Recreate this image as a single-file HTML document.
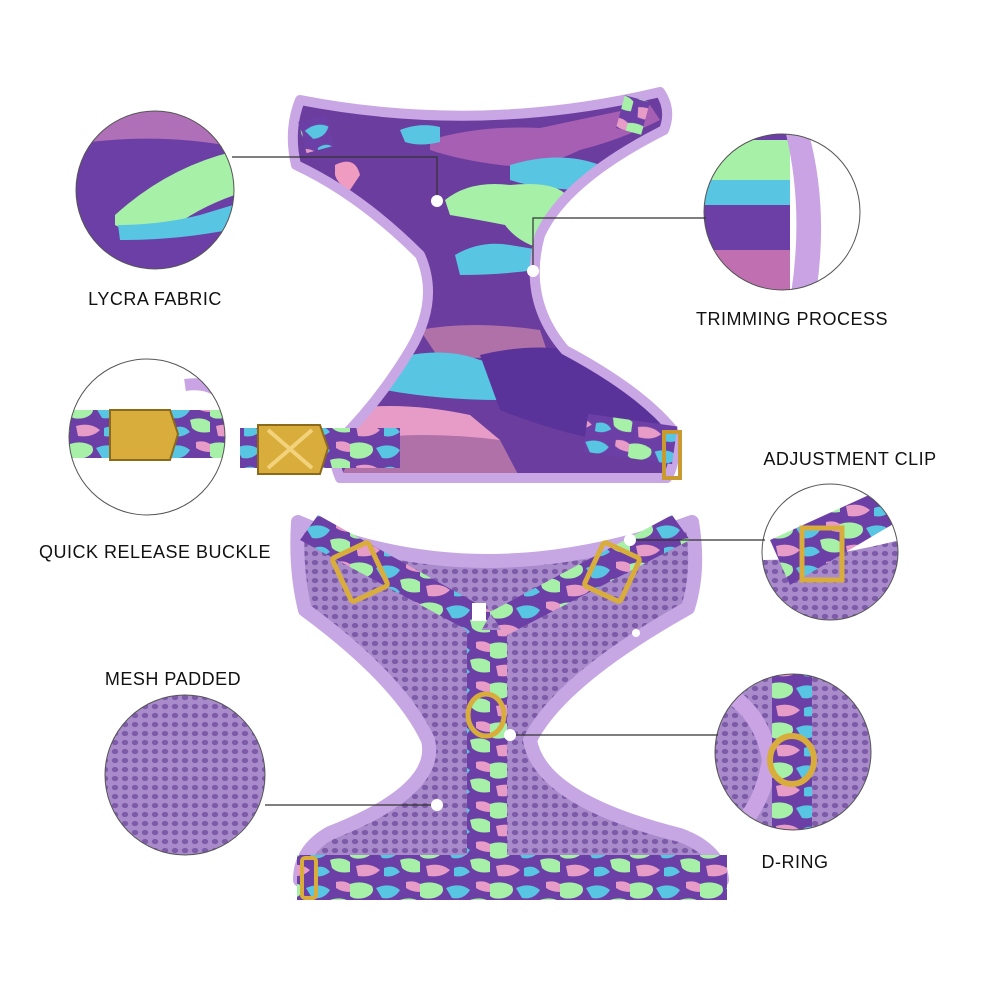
<!DOCTYPE html>
<html><head><meta charset="utf-8"><style>
html,body{margin:0;padding:0;background:#fff;}
svg{display:block}
text{font-family:"Liberation Sans",sans-serif;font-size:18px;fill:#111;letter-spacing:0.5px}
</style></head><body>
<svg width="1000" height="1000" viewBox="0 0 1000 1000" xmlns="http://www.w3.org/2000/svg">
<defs>
<clipPath id="topc"><path id="topp" d="M300,100 Q480,135 660,92 Q672,110 664,130 Q565,180 540,235 Q522,300 565,350 Q640,390 673,430 Q678,460 667,478 L340,478 Q330,455 340,440 Q380,400 410,350 Q440,300 420,255 Q360,195 296,165 Q288,130 300,100Z"/></clipPath>
<clipPath id="c1"><circle cx="155" cy="190" r="79"/></clipPath>
<clipPath id="c2"><circle cx="782" cy="212" r="78"/></clipPath>
<clipPath id="c3"><circle cx="147" cy="437" r="78"/></clipPath>
<clipPath id="c4"><circle cx="830" cy="552" r="68"/></clipPath>
<clipPath id="c5"><circle cx="185" cy="775" r="80"/></clipPath>
<clipPath id="c6"><circle cx="793" cy="752" r="78"/></clipPath>
<pattern id="mesh" width="10" height="9" patternUnits="userSpaceOnUse"><rect width="10" height="9" fill="#a98bcb"/><ellipse cx="5" cy="4.5" rx="3.2" ry="2.6" fill="#7d5ba8"/></pattern>
<pattern id="camo" width="70" height="40" patternUnits="userSpaceOnUse"><rect width="70" height="40" fill="#6b3fa5"/><path d="M0,4 Q12,0 22,6 Q26,14 14,18 Q4,20 0,16Z" fill="#a6f0a8"/><path d="M26,8 Q40,2 50,10 Q44,20 32,18Z" fill="#58c5e2"/><path d="M50,20 Q62,16 70,22 L70,32 Q58,34 52,28Z" fill="#a6f0a8"/><path d="M6,26 Q20,22 30,30 Q22,38 8,36Z" fill="#e79cc8"/><path d="M34,28 Q44,24 50,32 Q42,38 34,36Z" fill="#58c5e2"/><path d="M56,2 Q64,0 70,4 L70,12 Q62,12 56,8Z" fill="#e79cc8"/></pattern>
</defs>

<!-- TOP HARNESS -->
<g>
<path d="M300,100 Q480,135 660,92 Q672,110 664,130 Q565,180 540,235 Q522,300 565,350 Q640,390 673,430 Q678,460 667,478 L340,478 Q330,455 340,440 Q380,400 410,350 Q440,300 420,255 Q360,195 296,165 Q288,130 300,100Z" fill="#6a3d9e"/>
<g clip-path="url(#topc)">
<path d="M430,140 Q480,125 540,128 Q600,115 650,105 L660,120 Q620,140 580,150 Q540,170 500,165 Q460,160 430,150Z" fill="#a65fb2"/>
<path d="M400,130 Q420,122 440,127 L440,142 Q420,147 405,142Z" fill="#58c5e2"/>
<path d="M510,165 Q560,150 600,165 Q620,180 590,190 Q540,190 510,180Z" fill="#58c5e2"/>
<path d="M445,200 Q470,180 510,185 Q560,180 570,200 Q560,230 548,250 Q520,245 505,225 Q480,220 450,215Z" fill="#a6f0a8"/>
<path d="M335,165 Q355,155 360,175 L350,190 Q338,185 335,175Z" fill="#f09cc0"/>
<path d="M455,255 Q480,240 510,245 L540,250 L535,270 Q500,275 460,275Z" fill="#58c5e2"/>
<path d="M420,330 Q470,320 540,330 L550,360 Q500,355 440,360Z" fill="#b070a8"/>
<path d="M390,360 Q440,345 480,360 Q520,370 560,355 L600,380 Q560,400 500,400 Q440,400 385,390Z" fill="#58c5e2"/>
<path d="M480,355 Q540,340 600,355 Q650,380 670,420 L600,440 Q550,430 500,410Z" fill="#5a339a"/>
<path d="M340,410 Q400,400 470,415 L500,440 Q440,450 400,445 L350,450Z" fill="#e79cc8"/>
<path d="M360,440 Q420,430 500,440 L520,478 L340,478Z" fill="#b070a8"/>
</g>
<use href="#topp" fill="none" stroke="#c9a6e4" stroke-width="10" stroke-linejoin="round"/>
<rect x="302" y="118" width="28" height="32" fill="url(#camo)" transform="rotate(-15 316 134)"/>
<rect x="620" y="98" width="26" height="34" fill="url(#camo)" transform="rotate(15 633 115)"/>
<!-- buckle strap -->
<rect x="240" y="428" width="160" height="40" fill="url(#camo)"/>
<path d="M258,425 L320,425 L328,448 L320,474 L258,474 Z" fill="#d9ad3c" stroke="#8c6a1a" stroke-width="2"/>
<path d="M268,430 L312,468 M312,430 L268,468" stroke="#f2d27a" stroke-width="4"/>
<rect x="585" y="420" width="90" height="38" fill="url(#camo)" transform="rotate(8 630 440)"/>
<rect x="664" y="432" width="16" height="46" fill="none" stroke="#c99a30" stroke-width="4"/>
</g>

<!-- BOTTOM HARNESS -->
<g>
<path d="M298,522 Q480,600 692,522 Q700,570 688,608 Q560,680 530,740 Q540,800 680,835 Q720,850 722,880 L300,880 Q300,850 330,833 Q440,790 428,740 Q400,680 305,610 Q295,570 298,522Z" fill="url(#mesh)" stroke="#c6a7e4" stroke-width="14" stroke-linejoin="round"/>
<path d="M300,540 L478,636 L492,612 L318,515Z" fill="url(#camo)"/>
<path d="M690,540 L505,636 L490,612 L672,515Z" fill="url(#camo)"/>
<rect x="467" y="630" width="40" height="270" fill="url(#camo)"/>
<rect x="297" y="855" width="430" height="45" fill="url(#camo)"/>
<rect x="340" y="548" width="40" height="48" rx="3" fill="none" stroke="#d9ad3c" stroke-width="5" transform="rotate(-25 360 572)"/>
<rect x="592" y="548" width="40" height="48" rx="3" fill="none" stroke="#d9ad3c" stroke-width="5" transform="rotate(25 612 572)"/>
<ellipse cx="486" cy="715" rx="18" ry="21" fill="none" stroke="#d9ad3c" stroke-width="5"/>
<rect x="302" y="858" width="14" height="40" rx="3" fill="none" stroke="#d9ad3c" stroke-width="4"/>
<rect x="472" y="603" width="14" height="18" fill="#fff"/>
</g>

<!-- CIRCLES -->
<g clip-path="url(#c1)">
<rect x="70" y="100" width="180" height="180" fill="#6b3fa5"/>
<path d="M70,110 Q150,100 250,130 L250,150 Q160,130 70,145Z" fill="#b070b8"/>
<path d="M115,215 Q170,165 240,150 L250,190 Q200,205 170,230 Q140,240 115,225Z" fill="#a6f0a8"/>
<path d="M118,225 Q160,225 200,215 L250,200 L250,225 Q190,240 120,240Z" fill="#58c5e2"/>
</g>
<circle cx="155" cy="190" r="79" fill="none" stroke="#555" stroke-width="1"/>

<g clip-path="url(#c2)">
<rect x="700" y="130" width="170" height="170" fill="#fff"/>
<path d="M700,130 L790,130 L790,300 L700,300Z" fill="#6b3fa5"/>
<path d="M700,140 L790,140 L790,180 L700,180Z" fill="#a6f0a8"/>
<path d="M700,180 L790,180 L790,205 L700,205Z" fill="#58c5e2"/>
<path d="M700,250 L790,250 L790,300 L700,300Z" fill="#c070b0"/>
<path d="M785,130 Q805,210 790,300 L815,300 Q830,210 808,130Z" fill="#c9a3e3"/>
</g>
<circle cx="782" cy="212" r="78" fill="none" stroke="#555" stroke-width="1"/>

<g clip-path="url(#c3)">
<rect x="60" y="350" width="180" height="180" fill="#fff"/>
<rect x="60" y="410" width="180" height="48" fill="url(#camo)"/>
<path d="M110,410 L170,410 L178,434 L170,460 L110,460Z" fill="#d9ad3c" stroke="#8c6a1a" stroke-width="2"/>
<path d="M185,385 Q220,380 230,410" stroke="#c9a3e3" stroke-width="12" fill="none"/>
</g>
<circle cx="147" cy="437" r="78" fill="none" stroke="#555" stroke-width="1"/>

<g clip-path="url(#c4)">
<rect x="760" y="480" width="140" height="140" fill="#fff"/>
<path d="M760,560 Q820,560 900,540 L900,620 L760,620Z" fill="url(#mesh)"/>
<path d="M770,540 L880,490 L900,520 L790,585Z" fill="url(#camo)"/>
<rect x="802" y="528" width="40" height="52" fill="none" stroke="#d9ad3c" stroke-width="5"/>
</g>
<circle cx="830" cy="552" r="68" fill="none" stroke="#555" stroke-width="1"/>

<g clip-path="url(#c5)">
<rect x="100" y="690" width="170" height="170" fill="url(#mesh)"/>
</g>
<circle cx="185" cy="775" r="80" fill="none" stroke="#555" stroke-width="1"/>

<g clip-path="url(#c6)">
<rect x="710" y="670" width="170" height="170" fill="url(#mesh)"/>
<path d="M700,680 Q760,700 770,760 Q760,820 720,840" stroke="#c9a3e3" stroke-width="16" fill="none"/>
<rect x="772" y="670" width="40" height="170" fill="url(#camo)"/>
<ellipse cx="792" cy="760" rx="22" ry="24" fill="none" stroke="#d9ad3c" stroke-width="6"/>
</g>
<circle cx="793" cy="752" r="78" fill="none" stroke="#555" stroke-width="1"/>

<!-- CONNECTORS -->
<g stroke="#333" stroke-width="1.2" fill="none">
<path d="M232,157 L437,157 L437,200"/>
<path d="M706,218 L533,218 L533,270"/>
<path d="M765,540 L630,540"/>
<path d="M718,735 L510,735"/>
<path d="M265,805 L437,805"/>
</g>
<g fill="#fff">
<circle cx="437" cy="201" r="6"/>
<circle cx="533" cy="271" r="6"/>
<circle cx="630" cy="540" r="6"/>
<circle cx="510" cy="735" r="6"/>
<circle cx="437" cy="805" r="6"/>
<circle cx="636" cy="633" r="4"/>
</g>

<!-- LABELS -->
<text x="155" y="305" text-anchor="middle">LYCRA FABRIC</text>
<text x="792" y="325" text-anchor="middle">TRIMMING PROCESS</text>
<text x="155" y="558" text-anchor="middle">QUICK RELEASE BUCKLE</text>
<text x="850" y="465" text-anchor="middle">ADJUSTMENT CLIP</text>
<text x="173" y="685" text-anchor="middle">MESH PADDED</text>
<text x="795" y="868" text-anchor="middle">D-RING</text>
</svg>
</body></html>
